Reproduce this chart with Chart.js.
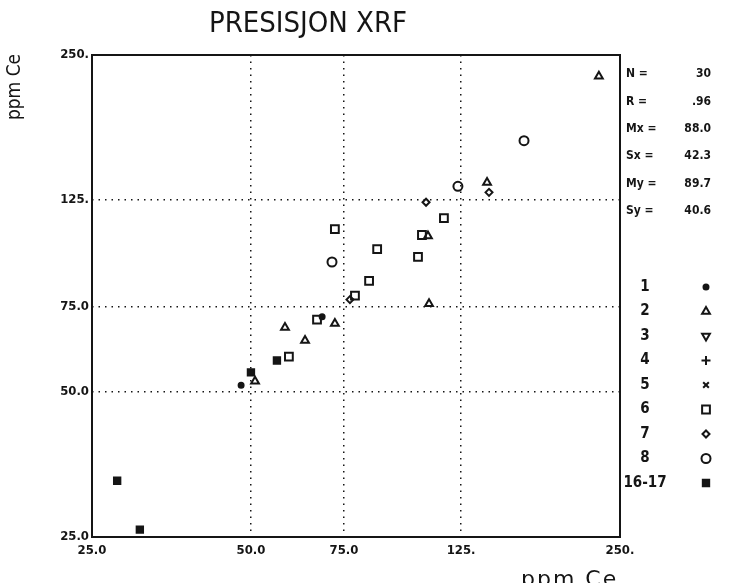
<!DOCTYPE html>
<html lang="no">
<head>
<meta charset="UTF-8">
<title>Presisjon XRF</title>
<script src="https://cdn.jsdelivr.net/npm/chart.js@4"></script>
<style>
  html, body { margin: 0; padding: 0; background: #fff; }
</style>
</head>
<body>
<canvas id="ce" width="740" height="583"></canvas>
<script>
// axis ticks (both axes are log, 25 - 250 ppm)
const tickValues = [25, 50, 75, 125, 250];
const tickLabels = ['25.0', '50.0', '75.0', '125.', '250.'];

// groups, x = ppm Ce (run 1), y = ppm Ce (run 2)
const groupNames = ['1', '2', '3', '4', '5', '6', '7', '8', '16-17'];
const g1x = [68.2, 47.9];
const g1y = [71.6, 51.6];
const g2x = [228, 140, 108.2, 108.7, 72.1, 58, 63.3, 50.9];
const g2y = [226, 136, 105.3, 76.2, 69.3, 68, 63.9, 52.6];
const g3x = [];
const g3y = [];
const g4x = [];
const g4y = [];
const g5x = [];
const g5y = [];
const g6x = [116, 72.1, 105.4, 86.7, 103.6, 83.7, 78.7, 66.7, 59];
const g6y = [114.7, 108.8, 105.8, 98.9, 95.3, 85, 79.2, 70.6, 59.2];
const g7x = [141.2, 107.3, 77];
const g7y = [129.7, 123.7, 77.7];
const g8x = [164.5, 123.3, 71.2];
const g8y = [166, 133.5, 93];
const g16x = [56, 50, 27.9, 30.8];
const g16y = [58.1, 54.9, 32.7, 25.9];

// summary statistics
const statLabels = ['N =', 'R =', 'Mx =', 'Sx =', 'My =', 'Sy ='];
const statValues = ['30', '.96', '88.0', '42.3', '89.7', '40.6'];

const xs = [g1x, g2x, g3x, g4x, g5x, g6x, g7x, g8x, g16x];
const ys = [g1y, g2y, g3y, g4y, g5y, g6y, g7y, g8y, g16y];

// plot symbol for each group
const marks = [
  { style: 'circle',   r: 2.5, fill: true },
  { style: 'triangle', r: 4.5 },
  { style: 'triangle', r: 4.5, rot: 180 },
  { style: 'cross',    r: 4.5 },
  { style: 'crossRot', r: 4 },
  { style: 'rect',     r: 5.5 },
  { style: 'rectRot',  r: 3.5 },
  { style: 'circle',   r: 4.5 },
  { style: 'rect',     r: 4.5, fill: true }
];

const INK = '#151515';
const condensed = '"DejaVu Sans Condensed", "Liberation Sans Narrow", "DejaVu Sans", sans-serif';

const datasets = groupNames.map((name, i) => ({
  label: name,
  data: xs[i].map((x, j) => ({ x: x, y: ys[i][j] })),
  pointStyle: marks[i].style,
  pointRadius: marks[i].r,
  pointRotation: marks[i].rot || 0,
  pointBorderWidth: 2,
  pointBorderColor: INK,
  pointBackgroundColor: marks[i].fill ? INK : 'rgba(0,0,0,0)',
  showLine: false
}));

function edgeTick(c) {
  return c.tick && (c.tick.value === 25 || c.tick.value === 250);
}

function logAxis(fit, pad) {
  return {
    type: 'logarithmic',
    min: 25,
    max: 250,
    afterBuildTicks: s => { s.ticks = tickValues.map(v => ({ value: v })); },
    afterFit: fit,
    ticks: {
      callback: v => tickLabels[tickValues.indexOf(v)],
      font: { family: condensed, size: 13, weight: 'bold' },
      color: INK,
      padding: pad,
      autoSkip: false,
      maxRotation: 0
    },
    grid: {
      color: c => edgeTick(c) ? 'rgba(0,0,0,0)' : INK,
      lineWidth: 1.5,
      drawTicks: false
    },
    border: { display: false, dash: [1.5, 5] }
  };
}

// frame, titles, statistics box and symbol key
const decorations = {
  id: 'decorations',
  afterDraw(chart) {
    const ctx = chart.ctx;
    const a = chart.chartArea;
    ctx.save();

    ctx.strokeStyle = INK;
    ctx.lineWidth = 2;
    ctx.strokeRect(a.left, a.top, a.right - a.left, a.bottom - a.top);

    ctx.fillStyle = INK;
    ctx.textBaseline = 'middle';
    ctx.textAlign = 'center';
    ctx.font = '29px ' + condensed;
    ctx.fillText('PRESISJON XRF', 308, 24);

    ctx.save();
    ctx.translate(15, 87);
    ctx.rotate(-Math.PI / 2);
    ctx.font = '19px ' + condensed;
    ctx.fillText('ppm Ce', 0, 0);
    ctx.restore();

    ctx.save();
    ctx.textAlign = 'left';
    ctx.textBaseline = 'alphabetic';
    ctx.font = '22px "DejaVu Sans", sans-serif';
    ctx.letterSpacing = '2px';
    ctx.fillText('ppm Ce', 521, 586);
    ctx.restore();

    ctx.textBaseline = 'middle';
    ctx.font = 'bold 12px ' + condensed;
    statLabels.forEach((t, i) => {
      const y = 74 + i * 27.4;
      ctx.textAlign = 'left';
      ctx.fillText(t, 626, y);
      ctx.textAlign = 'right';
      ctx.fillText(statValues[i], 711, y);
    });

    ctx.font = 'bold 15px ' + condensed;
    ctx.textAlign = 'center';
    groupNames.forEach((name, i) => {
      const y = 287 + i * 24.5;
      ctx.fillStyle = INK;
      ctx.fillText(name, 645, y);
      ctx.strokeStyle = INK;
      ctx.fillStyle = marks[i].fill ? INK : 'rgba(0,0,0,0)';
      ctx.lineWidth = 2;
      Chart.helpers.drawPoint(ctx, {
        pointStyle: marks[i].style,
        radius: marks[i].r,
        rotation: marks[i].rot || 0,
        borderWidth: 2
      }, 706, y);
    });

    ctx.restore();
  }
};

new Chart(document.getElementById('ce'), {
  type: 'scatter',
  data: { datasets: datasets },
  options: {
    responsive: false,
    animation: false,
    devicePixelRatio: 1,
    layout: { padding: { top: 55, right: 120, left: 0, bottom: 0 } },
    plugins: { legend: { display: false }, tooltip: { enabled: false } },
    scales: {
      x: logAxis(s => { s.height = 46; }, 6),
      y: logAxis(s => { s.width = 92; }, 3)
    }
  },
  plugins: [decorations]
});
</script>
</body>
</html>
